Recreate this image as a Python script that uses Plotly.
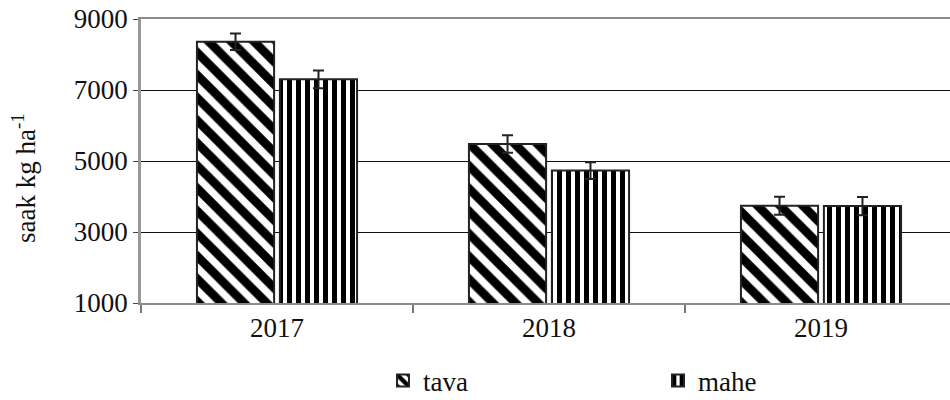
import plotly.graph_objects as go

years = ["2017", "2018", "2019"]
tava = [8360, 5480, 3740]
tava_err = [235, 245, 255]
mahe = [7300, 4730, 3730]
mahe_err = [250, 235, 255]
series_names = ["tava", "mahe"]

FONT = "Liberation Serif"

fig = go.Figure()
fig.add_trace(go.Bar(
    name=series_names[0], x=years, y=tava,
    error_y=dict(type="data", array=tava_err, color="#222", thickness=2, width=5.5),
    marker=dict(color="white", line=dict(color="#222", width=2),
                pattern=dict(shape="\\", size=16, solidity=0.55, fgcolor="black",
                             bgcolor="white", fgopacity=1)),
))
fig.add_trace(go.Bar(
    name=series_names[1], x=years, y=mahe,
    error_y=dict(type="data", array=mahe_err, color="#222", thickness=2, width=5.5),
    marker=dict(color="white", line=dict(color="#222", width=2),
                pattern=dict(shape="|", size=9, solidity=0.55, fgcolor="black",
                             bgcolor="white", fgopacity=1)),
))

fig.update_layout(
    width=950, height=400,
    margin=dict(l=141, r=0, t=19, b=97, autoexpand=False),
    paper_bgcolor="white", plot_bgcolor="white",
    barmode="group", bargap=0.39, bargroupgap=0.07,
    font=dict(family=FONT, size=27, color="#111"),
    showlegend=True,
    legend=dict(orientation="h", xref="paper", yref="paper",
                x=(383-141)/809, y=(303-381)/284, xanchor="left", yanchor="middle",
                entrywidth=230, entrywidthmode="pixels",
                font=dict(family=FONT, size=27, color="#111"),
                itemclick=False, tracegroupgap=0, bgcolor="rgba(0,0,0,0)"),
    xaxis=dict(range=[-0.5, -0.5 + 809/272], showline=True, linecolor="#8c8c8c", linewidth=2,
               mirror=True, ticks="outside", tickson="boundaries", ticklen=8, tickcolor="#777",
               tickwidth=1.5, showgrid=False, tickfont=dict(family=FONT, size=27), automargin=False),
    yaxis=dict(range=[1000, 9000], tickvals=[1000, 3000, 5000, 7000, 9000],
               showline=True, linecolor="#999", linewidth=2.5,
               ticks="outside", ticklen=5, tickcolor="#444",
               showgrid=True, gridcolor="#111", gridwidth=1, zeroline=False,
               tickfont=dict(family=FONT, size=27), automargin=False),
    annotations=[dict(text="saak kg ha<sup>-1</sup>", textangle=-90,
                      xref="paper", yref="paper", x=(24-141)/809, y=(303-178)/284,
                      xanchor="center", yanchor="middle", showarrow=False,
                      font=dict(family=FONT, size=27, color="#111"))],
)

fig.write_html("out.html", config={"displayModeBar": False},
               post_script="document.body.style.margin='0px';document.body.style.overflow='hidden';")
